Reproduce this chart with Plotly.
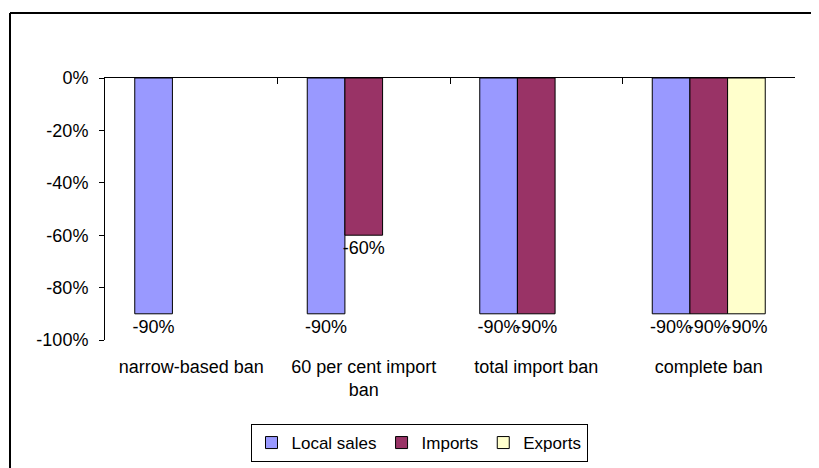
import plotly.graph_objects as go

categories = ["narrow-based ban", "60 per cent import<br>ban", "total import ban", "complete ban"]
local_sales = [-0.90, -0.90, -0.90, -0.90]
imports = [None, -0.60, -0.90, -0.90]
exports = [None, None, None, -0.90]
y_ticks = [0, -0.2, -0.4, -0.6, -0.8, -1.0]
y_tick_text = ["0%", "-20%", "-40%", "-60%", "-80%", "-100%"]

series = [
    ("Local sales", local_sales, "#9999FF"),
    ("Imports", imports, "#993366"),
    ("Exports", exports, "#FFFFCC"),
]

FAM = "Liberation Sans, Arial, sans-serif"
def f(size):
    return dict(family=FAM, size=size, color="black")

# the page body adds an 8px margin; positions below are in figure pixels
W, H = 811, 460
L, T = 97, 70
R, B = W - 787, H - 332
PW, PH = W - L - R, H - T - B

def px(x):
    return (x - L) / PW

def py(y):
    return 1 - (y - T) / PH

fig = go.Figure()
for name, vals, col in series:
    fig.add_trace(go.Bar(
        x=categories, y=vals, name=name,
        marker=dict(color=col, line=dict(color="black", width=1)),
        text=[("%d%%" % round(v * 100)) if v is not None else "" for v in vals],
        textposition="outside", constraintext="none", cliponaxis=False,
        textfont=f(18),
    ))

frame_line = dict(color="black", width=2)

fig.update_layout(
    width=W, height=H,
    margin=dict(l=L, r=R, t=T, b=B, autoexpand=False),
    paper_bgcolor="white", plot_bgcolor="white",
    font=f(18),
    barmode="group", bargap=0.345, bargroupgap=0,
    showlegend=True,
    legend=dict(orientation="h", x=px(411), xanchor="center",
                y=py(435), yanchor="middle",
                bordercolor="black", borderwidth=1, font=f(17),
                itemwidth=30, tracegroupgap=0),
    xaxis=dict(type="category", showline=False, ticks="", showgrid=False,
               tickfont=f(18), ticklabelstandoff=14, automargin=False),
    xaxis2=dict(overlaying="x", side="top", range=[-0.5, 3.5], showline=True,
                linecolor="black", linewidth=1, ticks="inside", ticklen=6,
                tickcolor="black", tickvals=[-0.5, 0.5, 1.5, 2.5, 3.5],
                showticklabels=False, showgrid=False, zeroline=False, automargin=False),
    yaxis=dict(range=[-1.0, 0], tickvals=y_ticks, ticktext=y_tick_text,
               showline=True, linecolor="black", linewidth=1, ticks="outside",
               ticklen=5, tickcolor="black", showgrid=False, zeroline=False,
               tickfont=f(18), ticklabelstandoff=7, automargin=False),
    shapes=[
        # chart-area frame: only the top and left edges fall inside the window
        dict(type="line", xref="paper", yref="paper",
             x0=px(2), x1=px(W), y0=py(5), y1=py(5), line=frame_line, layer="below"),
        dict(type="line", xref="paper", yref="paper",
             x0=px(2), x1=px(2), y0=py(5), y1=py(H), line=frame_line, layer="below"),
    ],
)
# invisible trace so the top category-boundary axis is rendered
fig.add_trace(go.Scatter(x=[-0.5, 3.5], y=[None, None], xaxis="x2", showlegend=False,
                         hoverinfo="skip", mode="lines"))

fig.write_html("out.html")
